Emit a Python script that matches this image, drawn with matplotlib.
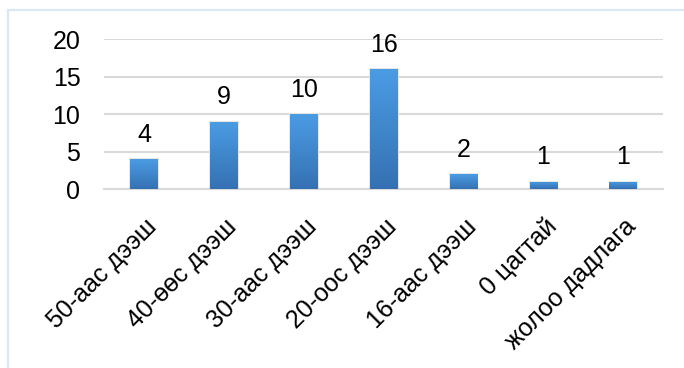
import matplotlib
matplotlib.use("Agg")
import matplotlib.pyplot as plt
import matplotlib.transforms as mtransforms
import numpy as np
from matplotlib.colors import LinearSegmentedColormap
from matplotlib.patches import Rectangle

categories = ["50-аас дээш", "40-өөс дээш", "30-аас дээш", "20-оос дээш",
              "16-аас дээш", "0 цагтай", "жолоо дадлага"]
values = [4, 9, 10, 16, 2, 1, 1]
yticks = [0, 5, 10, 15, 20]

plt.rcParams['font.family'] = ['Liberation Sans', 'DejaVu Sans']

W, H = 684, 368
fig = plt.figure(figsize=(W / 100, H / 100), dpi=100)
fig.patch.set_facecolor('white')

# outer frame (light blue)
fig.add_artist(Rectangle((8 / W, -0.1), 1.1, (H - 10) / H + 0.1,
                         transform=fig.transFigure, fill=False,
                         edgecolor='#dbe7f4', linewidth=1.6))

ax = fig.add_axes([104 / W, 1 - 189.3 / H, (663 - 104) / W, (189.3 - 39.3) / H])
ax.set_xlim(-0.5, len(categories) - 0.5)
ax.set_ylim(0, 20)

x = np.arange(len(categories))
bars = ax.bar(x, values, width=0.34, color='none', edgecolor='none', zorder=3)

cmap = LinearSegmentedColormap.from_list('g', ['#3571b2', '#4b9ce4'])
grad = np.linspace(0, 1, 256).reshape(-1, 1)
for b in bars:
    bx, by, bw, bh = b.get_x(), b.get_y(), b.get_width(), b.get_height()
    # soft shadow
    sh = Rectangle((bx - 0.012, by), bw + 0.03, bh + 0.12, facecolor='#e6e6e6',
                   edgecolor='none', zorder=2)
    ax.add_patch(sh)
    im = ax.imshow(grad, cmap=cmap, aspect='auto', origin='lower',
                   extent=[bx, bx + bw, by, by + bh], zorder=3)
    im.set_clip_path(b)
    ax.annotate(str(int(bh)), (bx + bw / 2, bh), xytext=(0, 9),
                textcoords='offset points', ha='center', va='bottom',
                fontsize=18, color='black')

ax.set_xlim(-0.5, len(categories) - 0.5)
ax.set_ylim(0, 20)
ax.set_yticks(yticks)
ax.set_yticklabels([str(v) for v in yticks], fontsize=18)
ax.set_xticks(x)
ax.set_xticklabels(categories, rotation=45, ha='right', va='top',
                   rotation_mode='anchor', fontsize=18)
ax.tick_params(axis='both', length=0)
ax.tick_params(axis='y', pad=17)
ax.tick_params(axis='x', pad=18)
for lab in ax.get_xticklabels():
    lab.set_transform(lab.get_transform() + mtransforms.ScaledTranslation(1 / 100, 0, fig.dpi_scale_trans))

ax.grid(axis='y', color='#d9d9d9', linewidth=1.5, zorder=0)
ax.set_axisbelow(True)
for s in ['top', 'right', 'left']:
    ax.spines[s].set_visible(False)
ax.spines['bottom'].set_color('#d9d9d9')
ax.spines['bottom'].set_linewidth(1.5)
ax.set_facecolor('none')

fig.savefig('out.png', dpi=100, facecolor='white')
